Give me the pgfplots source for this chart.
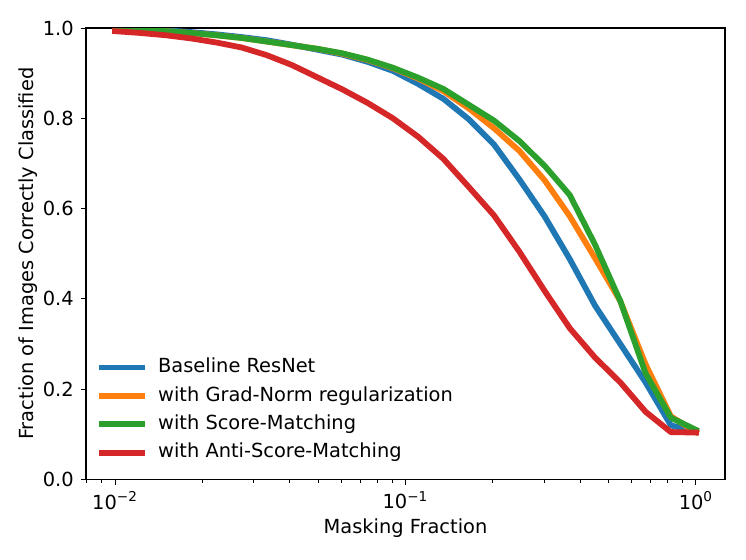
\documentclass[border=0pt]{standalone}
\usepackage{fontspec}
\setmainfont{DejaVu Sans}
\usepackage{pgfplots}
\pgfplotsset{compat=1.18}
\definecolor{tabblue}{HTML}{1F77B4}
\definecolor{taborange}{HTML}{FF7F0E}
\definecolor{tabgreen}{HTML}{2CA02C}
\definecolor{tabred}{HTML}{D62728}
\begin{document}
\begin{tikzpicture}
\path[use as bounding box] (-43pt,-39.75pt) rectangle (330pt,239.75pt);
\begin{axis}[
  at={(0pt,0pt)}, anchor=south west,
  scale only axis, width=319.5pt, height=225.75pt,
  xmode=log, xmin=0.0079433, xmax=1.2589,
  ymin=0, ymax=1,
  font=\fontsize{9.7}{11.6}\selectfont,
  /pgf/number format/assume math mode=true,
  ytick={0,0.2,0.4,0.6,0.8,1.0},
  yticklabel style={/pgf/number format/fixed,/pgf/number format/fixed zerofill,/pgf/number format/precision=1},
  xtick={0.01,0.1,1},
  xticklabels={10\textsuperscript{−2},10\textsuperscript{−1},10\textsuperscript{0}},
  minor xtick={0.008,0.009,0.02,0.03,0.04,0.05,0.06,0.07,0.08,0.09,0.2,0.3,0.4,0.5,0.6,0.7,0.8,0.9},
  tick align=outside, tick pos=left,
  major tick length=2.6pt, minor tick length=1.6pt,
  every tick/.style={black, line width=0.5pt},
  axis line style={line width=0.6pt},
  xlabel={Masking Fraction},
  ylabel={Fraction of Images Correctly Classified},
  xlabel style={yshift=2pt},
  ylabel style={yshift=-4pt},
  legend cell align=left,
  legend style={at={(rel axis cs:0,0)}, anchor=south west, xshift=5pt, yshift=6.1pt,
    draw=none, fill=none, inner sep=0pt, row sep=0pt, column sep=2.5pt,
    nodes={inner sep=2.5pt, text height=7.2pt, text depth=2pt}},
  legend image code/.code={\draw[#1, line width=2.9pt, line cap=butt] (0pt,0pt) -- (23pt,0pt);},
  every axis plot/.append style={line width=2.9pt, no markers, line join=round, line cap=rect},
]
\addplot[tabblue] coordinates {
(0.01,0.998) (0.012218,0.997) (0.014925,0.995) (0.018235,0.991) (0.022278,0.986)
(0.027219,0.980) (0.033255,0.973) (0.040629,0.963) (0.049639,0.952) (0.060647,0.941)
(0.074095,0.925) (0.090527,0.905) (0.110602,0.876) (0.135128,0.843) (0.165094,0.798)
(0.201705,0.742) (0.246436,0.665) (0.301087,0.583) (0.367857,0.488) (0.449432,0.385)
(0.549099,0.300) (0.670868,0.215) (0.819639,0.120) (1.0,0.105)};
\addlegendentry{Baseline ResNet}
\addplot[taborange] coordinates {
(0.01,0.998) (0.012218,0.996) (0.014925,0.993) (0.018235,0.989) (0.022278,0.984)
(0.027219,0.978) (0.033255,0.970) (0.040629,0.962) (0.049639,0.954) (0.060647,0.943)
(0.074095,0.929) (0.090527,0.911) (0.110602,0.888) (0.135128,0.860) (0.165094,0.822)
(0.201705,0.778) (0.246436,0.728) (0.301087,0.663) (0.367857,0.583) (0.449432,0.490)
(0.549099,0.395) (0.670868,0.255) (0.819639,0.140) (1.0,0.105)};
\addlegendentry{with Grad-Norm regularization}
\addplot[tabgreen] coordinates {
(0.01,0.998) (0.012218,0.996) (0.014925,0.993) (0.018235,0.989) (0.022278,0.984)
(0.027219,0.978) (0.033255,0.970) (0.040629,0.962) (0.049639,0.954) (0.060647,0.944)
(0.074095,0.930) (0.090527,0.912) (0.110602,0.890) (0.135128,0.865) (0.165094,0.830)
(0.201705,0.795) (0.246436,0.750) (0.301087,0.695) (0.367857,0.630) (0.449432,0.520)
(0.549099,0.395) (0.670868,0.235) (0.819639,0.137) (1.0,0.110)};
\addlegendentry{with Score-Matching}
\addplot[tabred] coordinates {
(0.01,0.993) (0.012218,0.989) (0.014925,0.984) (0.018235,0.977) (0.022278,0.968)
(0.027219,0.957) (0.033255,0.940) (0.040629,0.918) (0.049639,0.891) (0.060647,0.864)
(0.074095,0.834) (0.090527,0.800) (0.110602,0.759) (0.135128,0.710) (0.165094,0.648)
(0.201705,0.585) (0.246436,0.505) (0.301087,0.418) (0.367857,0.335) (0.449432,0.270)
(0.549099,0.215) (0.670868,0.150) (0.819639,0.105) (1.0,0.104)};
\addlegendentry{with Anti-Score-Matching}
\end{axis}
\end{tikzpicture}
\end{document}
